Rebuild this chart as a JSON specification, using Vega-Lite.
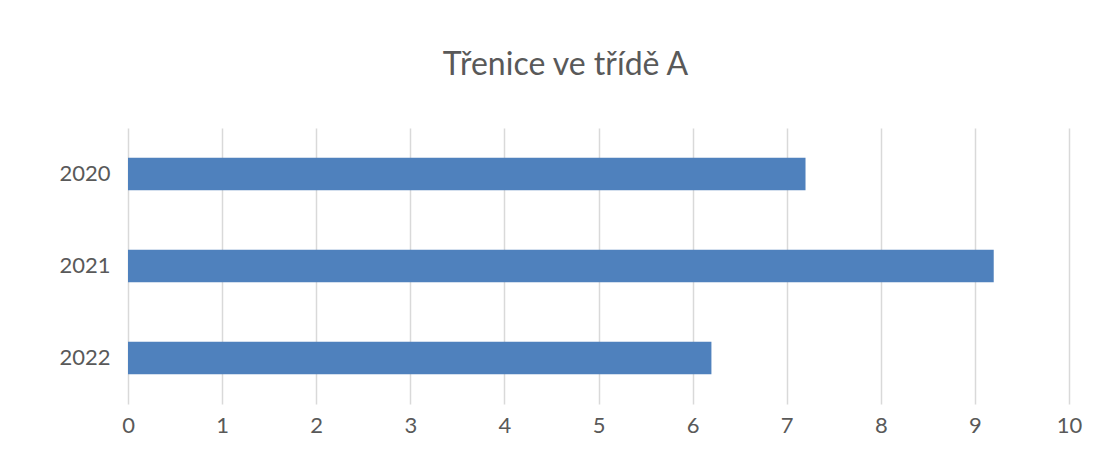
{
  "$schema": "https://vega.github.io/schema/vega-lite/v6.json",
  "autosize": {"type": "none"},
  "width": 941,
  "height": 276,
  "padding": {"left": 128, "top": 128, "right": 44, "bottom": 68},
  "background": "white",
  "title": {
    "text": "Třenice ve třídě A",
    "font": "Lato",
    "fontSize": 32,
    "fontWeight": "normal",
    "color": "#595959",
    "anchor": "middle",
    "dx": -33,
    "offset": 46
  },
  "data": {
    "values": [
      {"rok": "2020", "hodnota": 7.2},
      {"rok": "2021", "hodnota": 9.2},
      {"rok": "2022", "hodnota": 6.2}
    ]
  },
  "mark": {"type": "bar", "color": "#4F81BD"},
  "encoding": {
    "y": {
      "field": "rok",
      "type": "nominal",
      "sort": ["2020", "2021", "2022"],
      "scale": {"paddingInner": 0.645, "paddingOuter": 0.3225},
      "axis": {
        "title": null,
        "domain": false,
        "ticks": false,
        "labelFont": "Lato",
        "labelFontSize": 22,
        "labelColor": "#595959",
        "labelPadding": 18
      }
    },
    "x": {
      "field": "hodnota",
      "type": "quantitative",
      "scale": {"domain": [0, 10], "nice": false},
      "axis": {
        "title": null,
        "domain": false,
        "ticks": false,
        "values": [0, 1, 2, 3, 4, 5, 6, 7, 8, 9, 10],
        "grid": true,
        "gridColor": "#D9D9D9",
        "gridWidth": 1.5,
        "labelFont": "Lato",
        "labelFontSize": 22,
        "labelColor": "#595959",
        "labelPadding": 11,
        "labelFlush": false
      }
    }
  },
  "config": {
    "view": {"stroke": null},
    "axisY": {"grid": false}
  }
}
